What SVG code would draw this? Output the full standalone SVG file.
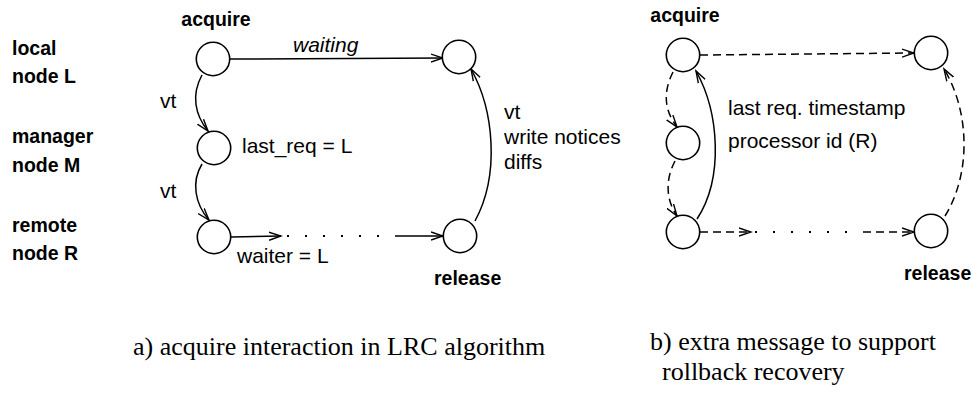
<svg xmlns="http://www.w3.org/2000/svg" width="972" height="393" viewBox="0 0 972 393">
<style>
.node{fill:#fff;stroke:#000;stroke-width:1.6}
.c{fill:none;stroke:#000;stroke-width:1.5}
.d{stroke-dasharray:8 5}
.dot{fill:none;stroke:#000;stroke-width:2;stroke-dasharray:2 16}
.b{font-family:"Liberation Sans",Arial,sans-serif;font-weight:bold;font-size:19.5px;fill:#000}
.t{font-family:"Liberation Sans",Arial,sans-serif;font-size:21px;fill:#000}
.cap{font-family:"Liberation Serif","Times New Roman",serif;font-size:26px;fill:#000}
</style>
<defs>
<marker id="ah" markerWidth="14" markerHeight="10" refX="12" refY="5" orient="auto" markerUnits="userSpaceOnUse">
<path d="M0,1 L12,5 L0,9" fill="none" stroke="#000" stroke-width="1.4"/>
</marker>
</defs>
<rect width="972" height="393" fill="#fff"/>

<g id="row-labels">
<text class="b" x="12" y="55">local</text>
<text class="b" x="12" y="83">node L</text>
<text class="b" x="12" y="143">manager</text>
<text class="b" x="12" y="172">node M</text>
<text class="b" x="12" y="232">remote</text>
<text class="b" x="12" y="260">node R</text>
</g>

<g id="connectors">
<!-- diagram a -->
<path class="c" d="M230,59 L443,58" marker-end="url(#ah)"/>
<path class="c" d="M202,75 C191,95 195,115 208,131" marker-end="url(#ah)"/>
<path class="c" d="M202,164 C191,182 195,204 209,220" marker-end="url(#ah)"/>
<path class="c" d="M231,237 L281,236" marker-end="url(#ah)"/>
<path class="dot" d="M287,236 L380,236"/>
<path class="c" d="M395,236 L443,236" marker-end="url(#ah)"/>
<path class="c" d="M475,221 C500,175 494,110 471,69" marker-end="url(#ah)"/>
<!-- diagram b -->
<path class="c d" d="M700,55 L914,53" marker-end="url(#ah)"/>
<path class="c d" d="M673,72 C663,92 664,110 677,127" marker-end="url(#ah)"/>
<path class="c d" d="M675,161 C665,180 666,200 677,216" marker-end="url(#ah)"/>
<path class="c" d="M697,219 C724,178 719,112 696,71" marker-end="url(#ah)"/>
<path class="c d" d="M945,216 C972,172 969,110 944,69" marker-end="url(#ah)"/>
<path class="c d" d="M700,232 L751,232" marker-end="url(#ah)"/>
<path class="dot" d="M755,232 L848,232"/>
<path class="c d" d="M863,232 L914,232" marker-end="url(#ah)"/>
</g>

<g id="a-L-acquire">
<circle class="node" cx="213" cy="59" r="16.7"/>
<text class="b" x="216" y="26" text-anchor="middle">acquire</text>
</g>
<g id="a-M">
<circle class="node" cx="214" cy="148" r="16.7"/>
</g>
<g id="a-R">
<circle class="node" cx="214" cy="237" r="16.7"/>
</g>
<g id="a-L-release">
<circle class="node" cx="459" cy="57" r="16.7"/>
</g>
<g id="a-R-release">
<circle class="node" cx="460" cy="236" r="16.7"/>
<text class="b" x="434" y="285">release</text>
</g>

<g id="a-labels">
<text class="t" x="293" y="52" font-style="italic">waiting</text>
<text class="t" x="160" y="108">vt</text>
<text class="t" x="160" y="198">vt</text>
<text class="t" x="242" y="153">last_req = L</text>
<text class="t" x="237" y="263">waiter = L</text>
<text class="t" x="504" y="119">vt</text>
<text class="t" x="504" y="144">write notices</text>
<text class="t" x="504" y="169">diffs</text>
</g>

<g id="b-L-acquire">
<circle class="node" cx="683" cy="55" r="16.7"/>
<text class="b" x="685" y="22" text-anchor="middle">acquire</text>
</g>
<g id="b-M">
<circle class="node" cx="683" cy="143" r="16.7"/>
</g>
<g id="b-R">
<circle class="node" cx="683" cy="232" r="16.7"/>
</g>
<g id="b-L-release">
<circle class="node" cx="931" cy="53" r="16.7"/>
</g>
<g id="b-R-release">
<circle class="node" cx="931" cy="231" r="16.7"/>
<text class="b" x="904" y="280">release</text>
</g>

<g id="b-labels">
<text class="t" x="728" y="115">last req. timestamp</text>
<text class="t" x="728" y="148">processor id (R)</text>
</g>

<g id="captions">
<text class="cap" x="133" y="355">a) acquire interaction in LRC algorithm</text>
<text class="cap" x="650" y="350">b) extra message to support</text>
<text class="cap" x="662" y="380">rollback recovery</text>
</g>
</svg>
